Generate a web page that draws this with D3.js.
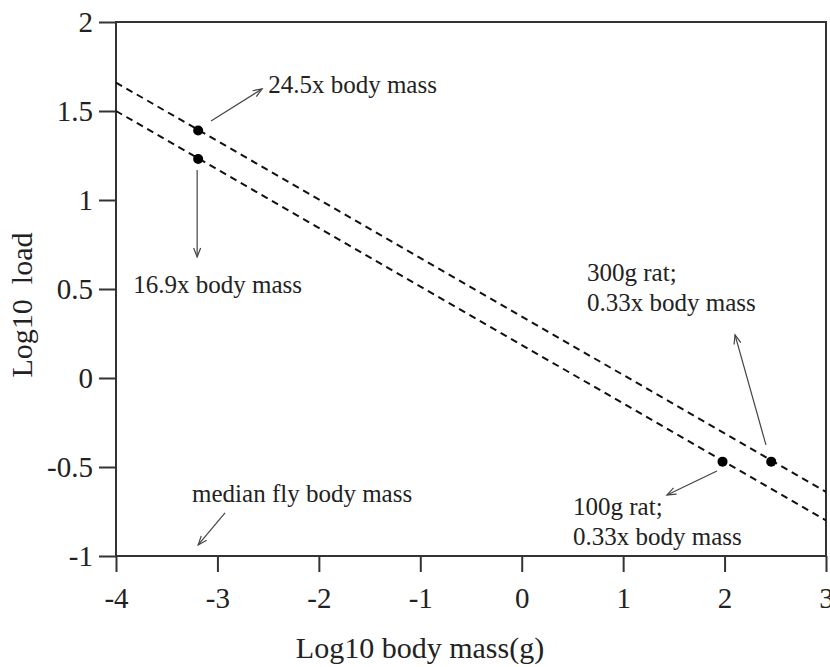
<!DOCTYPE html>
<html>
<head>
<meta charset="utf-8">
<script src="https://cdn.jsdelivr.net/npm/d3@7"></script>
<style>
	body { margin: 0; background: #fff; }
	svg { display: block; font-family: "Liberation Serif", "Times New Roman", serif; }
</style>
</head>
<body>
<div id="chart"></div>
<script>
// axis ticks
var xTicks = [-4, -3, -2, -1, 0, 1, 2, 3];
var yTicks = [-1, -0.5, 0, 0.5, 1, 1.5, 2];

// the two dashed scaling lines (start and end in data units)
var upperLine = [[-4, 1.66], [3, -0.64]];
var lowerLine = [[-4, 1.50], [3, -0.80]];

// dots: fly points and rat points
var pointsX = [-3.19, -3.19, 1.98, 2.46];
var pointsY = [1.39, 1.23, -0.47, -0.47];

// annotation texts, anchored in data units (first line baseline)
var notes = [
	{x: -2.50, y: 1.60, lines: ["24.5x body mass"]},
	{x: -3.83, y: 0.478, lines: ["16.9x body mass"]},
	{x: 0.644, y: 0.545, lines: ["300g rat;", "0.33x body mass"]},
	{x: 0.506, y: -0.772, lines: ["100g rat;", "0.33x body mass"]},
	{x: -3.25, y: -0.697, lines: ["median fly body mass"]}
];
// arrows [from, to]
var arrows = [
	[[-3.063, 1.444], [-2.56, 1.624]],
	[[-3.20, 1.169], [-3.20, 0.680]],
	[[2.408, -0.376], [2.103, 0.242]],
	[[1.925, -0.522], [1.432, -0.657]],
	[[-2.925, -0.758], [-3.19, -0.938]]
];

var margin = {top: 22, right: 4, bottom: 111, left: 116};
var W = 830, H = 667;
var width = W - margin.left - margin.right,
	height = H - margin.top - margin.bottom;
var lineGap = 30;

var svg = d3.select("#chart").append("svg")
	.attr("width", W)
	.attr("height", H);

var defs = svg.append("defs");
defs.append("marker")
	.attr("id", "head")
	.attr("markerUnits", "userSpaceOnUse")
	.attr("viewBox", "-10 -5 12 10")
	.attr("markerWidth", 12)
	.attr("markerHeight", 10)
	.attr("refX", 0)
	.attr("refY", 0)
	.attr("orient", "auto")
	.append("path")
	.attr("d", "M-9,-3.5L0,0L-9,3.5")
	.attr("fill", "none")
	.attr("stroke", "#444")
	.attr("stroke-width", 1.2);

var g = svg.append("g")
	.attr("transform", "translate(" + margin.left + "," + margin.top + ")");

var xScale = d3.scaleLinear().domain([-4, 3]).range([0, width]);
var yScale = d3.scaleLinear().domain([-1, 2]).range([height, 0]);

// frame
g.append("rect")
	.attr("x", 0).attr("y", 0)
	.attr("width", width).attr("height", height)
	.attr("fill", "none")
	.attr("stroke", "#333")
	.attr("stroke-width", 2);

var xAxis = g.append("g")
	.attr("transform", "translate(0," + height + ")")
	.call(d3.axisBottom(xScale).tickValues(xTicks).tickSize(16).tickPadding(8)
		.tickFormat(function(d) { return String(d); }));
var yAxis = g.append("g")
	.call(d3.axisLeft(yScale).tickValues(yTicks).tickSize(17).tickPadding(6)
		.tickFormat(function(d) { return String(d); }));

[xAxis, yAxis].forEach(function(ax) {
	ax.select(".domain").remove();
	ax.selectAll(".tick line").attr("stroke", "#333").attr("stroke-width", 2);
	ax.selectAll(".tick text")
		.attr("fill", "#222")
		.style("font-family", "'Liberation Serif', serif")
		.style("font-size", "29px");
});
xAxis.selectAll(".tick text").attr("dy", "0.95em");
yAxis.selectAll(".tick text").attr("dy", "0.34em");

// dashed lines
var line = d3.line()
	.x(function(d) { return xScale(d[0]); })
	.y(function(d) { return yScale(d[1]); });
g.selectAll(".fit")
	.data([upperLine, lowerLine])
	.enter()
	.append("path")
	.attr("class", "fit")
	.attr("d", line)
	.attr("fill", "none")
	.attr("stroke", "#111")
	.attr("stroke-width", 2)
	.attr("stroke-dasharray", "7,5");

// points
g.selectAll("circle")
	.data(pointsX)
	.enter()
	.append("circle")
	.attr("cx", function(d) { return xScale(d); })
	.attr("cy", function(d, i) { return yScale(pointsY[i]); })
	.attr("r", 5)
	.attr("fill", "#000");

// arrows
g.selectAll(".arrow")
	.data(arrows)
	.enter()
	.append("line")
	.attr("class", "arrow")
	.attr("x1", function(d) { return xScale(d[0][0]); })
	.attr("y1", function(d) { return yScale(d[0][1]); })
	.attr("x2", function(d) { return xScale(d[1][0]); })
	.attr("y2", function(d) { return yScale(d[1][1]); })
	.attr("stroke", "#444")
	.attr("stroke-width", 1.2)
	.attr("marker-end", "url(#head)");

// annotation text
var noteText = g.selectAll(".note")
	.data(notes)
	.enter()
	.append("text")
	.attr("class", "note")
	.attr("fill", "#222")
	.style("font-size", "25px");
noteText.each(function(d) {
	var t = d3.select(this);
	d.lines.forEach(function(s, i) {
		t.append("tspan")
			.attr("x", xScale(d.x))
			.attr("y", yScale(d.y) + i * lineGap)
			.text(s);
	});
});

// axis titles
svg.append("text")
	.attr("x", 420)
	.attr("y", 658)
	.attr("text-anchor", "middle")
	.attr("fill", "#222")
	.style("font-size", "30px")
	.text("Log10 body mass(g)");

svg.append("text")
	.attr("transform", "translate(32,305) rotate(-90)")
	.attr("text-anchor", "middle")
	.attr("fill", "#222")
	.style("font-size", "30px")
	.style("white-space", "pre")
	.text("Log10  load");
</script>
</body>
</html>
